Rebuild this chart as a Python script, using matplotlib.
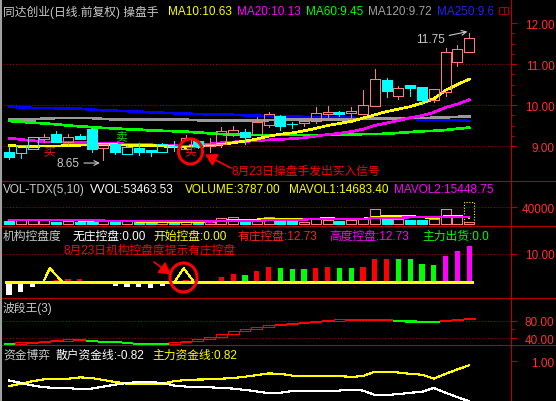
import numpy as np
import matplotlib
matplotlib.use("Agg")
import matplotlib.pyplot as plt
from matplotlib.patches import Rectangle, Ellipse
from matplotlib.transforms import Bbox, TransformedBbox

plt.rcParams['font.family'] = ['Liberation Sans', 'Noto Sans CJK SC']

# ---------------- data ----------------
opens  = [8.85, 8.84, 8.92, 9.17, 9.29, 9.10, 9.24, 9.42, 8.94, 9.05,
          8.80, 8.94, 8.91, 8.86, 9.00, 8.93, 9.13, 8.99, 9.05, 9.27,
          9.35, 9.28, 9.52, 9.72, 9.54, 9.56, 9.60, 9.78, 9.82, 9.80,
          9.78, 9.97, 10.61, 10.23, 10.49, 10.44, 10.13, 10.32, 11.06, 11.29]
highs  = [9.02, 9.03, 9.23, 9.29, 9.37, 9.29, 9.29, 9.43, 9.06, 9.05,
          9.02, 9.07, 8.91, 9.07, 9.13, 9.27, 9.13, 9.20, 9.46, 9.50,
          9.41, 9.70, 9.82, 9.76, 9.58, 9.64, 9.96, 9.98, 9.86, 9.94,
          10.37, 10.88, 10.65, 10.47, 10.49, 10.44, 10.39, 11.38, 11.46, 11.75]
lows   = [8.68, 8.70, 8.92, 9.10, 9.10, 9.06, 9.17, 8.86, 8.65, 8.80,
          8.80, 8.78, 8.75, 8.86, 8.89, 8.93, 8.96, 8.85, 8.97, 9.24,
          9.05, 9.28, 9.46, 9.40, 9.45, 9.50, 9.55, 9.71, 9.72, 9.66,
          9.78, 9.97, 10.19, 10.15, 10.23, 10.02, 10.07, 10.21, 10.94, 11.29]
closes = [8.74, 9.02, 9.21, 9.21, 9.10, 9.22, 9.17, 8.93, 9.05, 8.85,
          8.97, 8.86, 8.86, 9.05, 8.99, 9.20, 8.97, 9.05, 9.36, 9.39,
          9.23, 9.58, 9.78, 9.50, 9.53, 9.61, 9.80, 9.83, 9.78, 9.85,
          10.00, 10.63, 10.35, 10.41, 10.42, 10.13, 10.39, 11.29, 11.37, 11.63]
cyan_up_days = [1, 2, 10, 13]   # rising days the indicator paints cyan

ma10 = [9.02, 8.99, 8.99, 9.00, 9.00, 9.01, 9.02, 9.03, 9.03, 9.03,
        9.02, 9.02, 9.01, 9.00, 8.98, 8.97, 9.00, 9.00, 9.04, 9.08,
        9.12, 9.17, 9.24, 9.29, 9.32, 9.37, 9.43, 9.50, 9.55, 9.60,
        9.68, 9.76, 9.84, 9.90, 9.96, 10.05, 10.15, 10.36, 10.50, 10.63]
ma20 = [9.19, 9.16, 9.13, 9.10, 9.10, 9.09, 9.09, 9.08, 9.07, 9.06,
        9.05, 9.05, 9.03, 9.02, 9.01, 8.99, 9.04, 9.05, 9.08, 9.10,
        9.11, 9.13, 9.15, 9.16, 9.18, 9.20, 9.24, 9.28, 9.31, 9.35,
        9.41, 9.50, 9.56, 9.62, 9.69, 9.74, 9.82, 9.94, 10.02, 10.13]
ma60 = [9.61, 9.59, 9.57, 9.55, 9.53, 9.50, 9.48, 9.46, 9.44, 9.43,
        9.41, 9.40, 9.38, 9.37, 9.36, 9.35, 9.33, 9.31, 9.29, 9.28,
        9.27, 9.27, 9.27, 9.27, 9.27, 9.27, 9.27, 9.27, 9.27, 9.28,
        9.29, 9.29, 9.30, 9.32, 9.34, 9.36, 9.37, 9.39, 9.42, 9.45]
ma120 = [9.64, 9.64, 9.65, 9.67, 9.68, 9.68, 9.68, 9.68, 9.66, 9.65,
         9.65, 9.65, 9.65, 9.65, 9.65, 9.64, 9.63, 9.63, 9.63, 9.62,
         9.62, 9.63, 9.63, 9.64, 9.64, 9.64, 9.64, 9.64, 9.64, 9.65,
         9.66, 9.67, 9.67, 9.67, 9.68, 9.68, 9.69, 9.70, 9.71, 9.72]
ma250 = [9.97, 9.94, 9.93, 9.93, 9.92, 9.92, 9.91, 9.89, 9.87, 9.86,
         9.85, 9.84, 9.82, 9.81, 9.80, 9.79, 9.78, 9.77, 9.77, 9.76,
         9.75, 9.74, 9.73, 9.72, 9.72, 9.71, 9.71, 9.70, 9.69, 9.69,
         9.68, 9.68, 9.67, 9.66, 9.66, 9.65, 9.64, 9.64, 9.63, 9.61]

vol = [5400, 8600, 8600, 8600, 4500, 6000, 4500, 4500, 5000, 4500,
       6000, 4000, 3500, 4500, 4000, 5000, 3500, 4500, 12800, 16800,
       6000, 11000, 15300, 9000, 7000, 3000, 13600, 9000, 6900, 8600,
       13600, 35800, 17800, 11100, 8600, 8600, 11100, 35800, 19000, 3787]
vvol = 53463.53
mavol1 = [8000, 8200, 8400, 8600, 8000, 8300, 7400, 6800, 6200, 5600,
          5300, 5000, 4600, 4700, 4300, 4800, 4500, 4900, 6200, 8200,
          8500, 9600, 11000, 11500, 10800, 10500, 12000, 12500, 12000, 11000,
          11500, 16000, 18000, 18500, 18000, 16000, 12500, 18000, 19000, 14683.40]
mavol2 = [8500, 8400, 8300, 8200, 8000, 7900, 7800, 7600, 7300, 7000,
          6800, 6600, 6300, 6000, 5700, 5500, 5200, 5000, 5300, 5800,
          6400, 7000, 7700, 8500, 9000, 9800, 10500, 11000, 11500, 11800,
          11600, 13000, 14000, 14500, 15000, 15500, 15500, 16500, 16800, 15448.75]

ctrl = [-4.4, -3.3, -1.5, 0.0, 0.8, 1.0, 1.2, 0.6, 0.0, -1.2,
        -1.5, -1.5, -2.0, -1.2, -0.4, 0.8, 0.5, 0.55, 2.0, 2.9,
        2.7, 4.1, 5.5, 5.1, 4.7, 4.65, 5.1, 5.5, 5.1, 5.05,
        5.5, 8.1, 8.25, 8.2, 8.15, 6.5, 6.1, 9.2, 11.1, 12.73]
start_ctrl_x = [[2.9, 3.45, 4.55], [14.0, 14.8, 15.7]]
start_ctrl_y = [[0, 5, 0], [0, 5, 0]]

band = [28.0, 28.8, 32.0, 34.0, 34.6, 36.0, 36.4, 34.5, 33.4, 32.0,
        30.4, 29.0, 28.4, 28.0, 32.0, 35.0, 38.5, 43.0, 49.0, 56.0,
        62.0, 66.5, 70.0, 72.5, 75.0, 77.0, 78.5, 80.0, 81.0, 81.5,
        81.8, 82.0, 82.1, 80.5, 79.2, 79.0, 78.8, 81.5, 83.0, 84.0]
band_start = 29.0

main_fund = [-0.13, -0.02, 0.10, 0.18, 0.21, 0.21, 0.27, 0.24, 0.15, 0.06,
             -0.02, -0.05, -0.05, -0.02, 0.10, 0.15, 0.17, 0.18, 0.21, 0.24,
             0.30, 0.37, 0.45, 0.43, 0.35, 0.33, 0.33, 0.33, 0.33, 0.29,
             0.33, 0.53, 0.53, 0.49, 0.43, 0.39, 0.21, 0.43, 0.63, 0.82]
retail_fund = [0.13, 0.02, -0.10, -0.18, -0.21, -0.21, -0.27, -0.24, -0.15, -0.06,
               0.02, 0.05, 0.05, 0.02, -0.10, -0.15, -0.17, -0.18, -0.21, -0.24,
               -0.30, -0.37, -0.45, -0.43, -0.35, -0.33, -0.33, -0.33, -0.33, -0.29,
               -0.33, -0.53, -0.53, -0.49, -0.43, -0.39, -0.21, -0.43, -0.63, -0.82]

# ---------------- style ----------------
W, H = 556, 402
X0, X1 = 3, 511          # plot area in pixels
XC0, STEP = 9, 11.8      # centre of first bar, bar spacing (px)
BW = 0.85
LW = 0.7
PINK, CYAN = '#ff7c7c', '#00ffff'
AXC, LBL, DOT = '#b40000', '#ff3030', '#b00000'
GRAY = '#c8c8c8'
FS = 8.5
n = len(closes)
idx = np.arange(n)

fig = plt.figure(figsize=(W / 100, H / 100), dpi=100, facecolor='black')


def make_panel(top, bottom, v_hi, y_hi, v_lo, y_lo, ticks, labels, minor=()):
    ax = fig.add_axes([X0 / W, 1 - bottom / H, (X1 - X0) / W, (bottom - top) / H])
    ax.set_facecolor('black')
    k = (v_hi - v_lo) / (y_lo - y_hi)
    ax.set_ylim(v_lo - (bottom - y_lo) * k, v_hi + (y_hi - top) * k)
    ax.set_xlim((X0 - XC0) / STEP, (X1 - XC0) / STEP)
    for s in ['top', 'left', 'bottom']:
        ax.spines[s].set_visible(False)
    ax.spines['right'].set_color(AXC)
    ax.spines['right'].set_linewidth(0.8)
    ax.tick_params(axis='x', bottom=False, labelbottom=False)
    ax.yaxis.tick_right()
    ax.set_yticks(ticks)
    ax.set_yticklabels(labels)
    ax.set_yticks(list(minor), minor=True)
    ax.tick_params(axis='y', which='major', colors=AXC, labelcolor=LBL,
                   labelsize=FS, length=4, width=0.8, pad=27.4)
    ax.tick_params(axis='y', which='minor', colors=AXC, length=2.5, width=0.8)
    for lab in ax.get_yticklabels():
        lab.set_horizontalalignment('right')
    ax._px = 1.0 / k      # pixels per value unit
    return ax


def dotted(ax, v):
    ax.axhline(v, color=DOT, lw=0.75, ls=(0, (1, 2)), zorder=1)


# ---------------- main price panel ----------------
ax = make_panel(0, 182, 12, 24, 9, 147, [9, 10, 11, 12],
                ['9.00', '10.00', '11.00', '12.00'],
                minor=[9.25, 9.5, 9.75, 10.25, 10.5, 10.75, 11.25, 11.5, 11.75])
for v in [9, 10, 11]:
    dotted(ax, v)
for ser, col in [(ma250, '#0000ff'), (ma120, '#9a9a9a'), (ma60, '#00ff00'),
                 (ma20, '#ff00ff'), (ma10, '#ffff00')]:
    ax.plot(idx, ser, color=col, lw=1.2, antialiased=False, zorder=2)

for i in range(n):
    o, h, l, c = opens[i], highs[i], lows[i], closes[i]
    up = c > o
    col = CYAN if (not up or i in cyan_up_days) else PINK
    lo_b, hi_b = min(o, c), max(o, c)
    if up:
        ax.vlines(i, hi_b, h, color=col, lw=LW, antialiased=False, zorder=3)
        ax.vlines(i, l, lo_b, color=col, lw=LW, antialiased=False, zorder=3)
        ax.add_patch(Rectangle((i - BW / 2, lo_b), BW, hi_b - lo_b, fill=False,
                               ec=col, lw=LW, antialiased=False, zorder=3))
    else:
        ax.vlines(i, l, h, color=col, lw=LW, antialiased=False, zorder=3)
        if hi_b - lo_b < 0.02:
            ax.hlines(o, i - BW / 2, i + BW / 2, color=col, lw=LW, antialiased=False, zorder=3)
        else:
            ax.add_patch(Rectangle((i - BW / 2, lo_b), BW, hi_b - lo_b, fc=col,
                                   ec=col, lw=LW, antialiased=False, zorder=3))

i_lo = int(np.argmin(lows))
i_hi = int(np.argmax(highs))
ax.annotate(f"{lows[i_lo]:.2f}", xy=(i_lo - 0.3, lows[i_lo] - 0.065),
            xytext=(i_lo - 2.0, lows[i_lo] - 0.065), color=GRAY, fontsize=FS,
            ha='right', va='center',
            arrowprops=dict(arrowstyle='->', color=GRAY, lw=0.8, shrinkA=1, shrinkB=0))
ax.annotate(f"{highs[i_hi]:.2f}", xy=(i_hi - 0.15, highs[i_hi] + 0.04),
            xytext=(i_hi - 2.05, highs[i_hi] - 0.15), color=GRAY, fontsize=FS,
            ha='right', va='center',
            arrowprops=dict(arrowstyle='->', color=GRAY, lw=0.8, shrinkA=1, shrinkB=0))

# ---------------- volume panel ----------------
av = make_panel(182, 227, 40000, 208.3, 0, 224.5, [40000], ['40000'])
dotted(av, 40000)
for i in range(n):
    up = closes[i] > opens[i]
    if up:
        av.add_patch(Rectangle((i - BW / 2, 0), BW, vol[i], fill=False, ec=PINK,
                               lw=LW, antialiased=False, zorder=3))
    else:
        av.add_patch(Rectangle((i - BW / 2, 0), BW, vol[i], fc=CYAN, ec=CYAN,
                               lw=LW, antialiased=False, zorder=3))
av.add_patch(Rectangle((n - 1 - BW / 2, 0), BW, vvol, fill=False, ec='#ffff00',
                       lw=0.8, ls=(0, (1, 1.5)), zorder=2))
av.plot(idx, mavol1, color='#ffff00', lw=0.8, antialiased=False, zorder=4)
av.plot(idx, mavol2, color='#ff00ff', lw=0.8, antialiased=False, zorder=4)

# ---------------- 机构控盘度 panel ----------------
ac = make_panel(227, 298.5, 10, 255, 0, 283.3, [10], ['10.00'])
dotted(ac, 10)
for i in range(n):
    v = ctrl[i]
    if v < 0:
        col = '#ffffff'
    elif v > 9:
        col = '#ff00ff'
    elif i > 0 and v >= ctrl[i - 1]:
        col = '#ff0000'
    else:
        col = '#00ff00'
    ac.bar(i, v, width=0.45, color=col, antialiased=False, zorder=3)
ac.hlines(0, -0.3, n - 0.7, color='#ffff00', lw=0.9, antialiased=False, zorder=4)
for tx, ty in zip(start_ctrl_x, start_ctrl_y):
    ac.plot(tx, ty, color='#ffff00', lw=0.8, antialiased=False, zorder=4)

# ---------------- 波段王 panel ----------------
ab = make_panel(298.5, 346, 80, 321.6, 40, 339.3, [40, 80], ['40.00', '80.00'], minor=[60])
dotted(ab, 80)
dotted(ab, 40)
min_h = 1.2 / ab._px
prev = band_start
for i in range(n):
    v = band[i]
    lo_b, hi_b = min(prev, v), max(prev, v)
    hgt = max(hi_b - lo_b, min_h)
    if v >= prev:
        ab.add_patch(Rectangle((i - 0.45, lo_b), 0.9, hgt, fill=False,
                               ec='#ff0000', lw=LW, antialiased=False, zorder=3))
    else:
        ab.add_patch(Rectangle((i - 0.45, hi_b - hgt), 0.9, hgt, fc='#00ff00',
                               ec='#00ff00', lw=LW, antialiased=False, zorder=3))
    prev = v

# ---------------- 资金博弈 panel ----------------
af = make_panel(346, 402, 1.0, 362.3, 0.0, 384.3, [1.0], ['1.00'])
af.plot(idx, main_fund, color='#ffff00', lw=0.8, antialiased=False, zorder=3)
af.plot(idx, retail_fund, color='#ffffff', lw=0.8, antialiased=False, zorder=3)

# ---------------- overlay: headers, separators, notes ----------------
ov = fig.add_axes([0, 0, 1, 1], zorder=10)
ov.set_xlim(0, W)
ov.set_ylim(H, 0)
ov.axis('off')
ov.patch.set_alpha(0)
clip = TransformedBbox(Bbox([[0, 0], [493, H]]), ov.transData)

for y in [182, 227, 298.5, 346]:
    ov.plot([0, W], [y, y], color=AXC, lw=0.8)
ov.plot([1, 1], [0, H], color='#a0a0a0', lw=1.5)
ov.add_patch(Rectangle((499, 8), 9, 7, fill=False, ec='#a00000', lw=0.8))
ov.plot([504, 504], [8, 15], color='#a00000', lw=0.8)


def hdr(x, y, s, c):
    t = ov.text(x, y, s, color=c, fontsize=FS, ha='left', va='center')
    t.set_clip_box(clip)
    t.set_clip_on(True)


hdr(3, 12, '同达创业(日线.前复权) 操盘手', GRAY)
hdr(168, 12, f'MA10:{ma10[-1]:.2f}', '#ffff00')
hdr(237, 12, f'MA20:{ma20[-1]:.2f}', '#ff00ff')
hdr(306, 12, f'MA60:{ma60[-1]:.2f}', '#00ff00')
hdr(368, 12, f'MA120:{ma120[-1]:.2f}', '#a0a0a0')
hdr(437, 12, f'MA250:{ma250[-1]:.2f}', '#2020ff')

hdr(3, 190.5, 'VOL-TDX(5,10)', GRAY)
hdr(90, 190.5, f'VVOL:{vvol:.2f}', '#ffffff')
hdr(185, 190.5, f'VOLUME:{vol[-1]:.2f}', '#ffff00')
hdr(289, 190.5, f'MAVOL1:{mavol1[-1]:.2f}', '#ffff00')
hdr(394, 190.5, f'MAVOL2:{mavol2[-1]:.2f}', '#ff00ff')

hdr(3, 237, '机构控盘度', GRAY)
hdr(73, 237, '无庄控盘:0.00', '#ffffff')
hdr(153, 237, '开始控盘:0.00', '#ffff00')
hdr(238, 237, f'有庄控盘:{ctrl[-1]:.2f}', '#ff2020')
hdr(329, 237, f'高度控盘:{ctrl[-1]:.2f}', '#ff00ff')
hdr(422, 237, '主力出货:0.0', '#00ff00')

hdr(3, 308.5, '波段王(3)', GRAY)

hdr(3, 355.5, '资金博弈', GRAY)
hdr(56, 355.5, f'散户资金线:{retail_fund[-1]:.2f}', '#ffffff')
hdr(152, 355.5, f'主力资金线:{main_fund[-1]:.2f}', '#ffff00')

# buy / sell marks of the 操盘手 indicator
ov.text(121, 137.5, '卖', color='#20d020', fontsize=FS, ha='center', va='center')
ov.text(49, 152.5, '买', color='#ff1010', fontsize=FS, ha='center', va='center')
ov.text(190.5, 152.5, '买', color='#ff1010', fontsize=FS, ha='center', va='center')
ov.add_patch(Ellipse((190.5, 152.5), 24, 25, fill=False, ec='#ff0000', lw=2.2))
ov.annotate('', xy=(205, 155.5), xytext=(231, 169),
            arrowprops=dict(arrowstyle='-|>,head_length=0.7,head_width=0.4',
                            color='#ff0000', lw=1.2, shrinkA=0, shrinkB=0))
ov.text(232, 172, '8月23日操盘手发出买入信号', color='#ff0000', fontsize=FS,
        ha='left', va='center')

ov.text(63, 251, '8月23日机构控盘度提示有庄控盘', color='#ff0000', fontsize=FS,
        ha='left', va='center')
ov.add_patch(Ellipse((183.5, 278.5), 27, 29, fill=False, ec='#ff0000', lw=2.2))
ov.annotate('', xy=(171, 275.5), xytext=(154, 263),
            arrowprops=dict(arrowstyle='-|>,head_length=0.7,head_width=0.4',
                            color='#ff0000', lw=1.2, shrinkA=0, shrinkB=0))

fig.savefig('out.png', dpi=100, facecolor='black')
